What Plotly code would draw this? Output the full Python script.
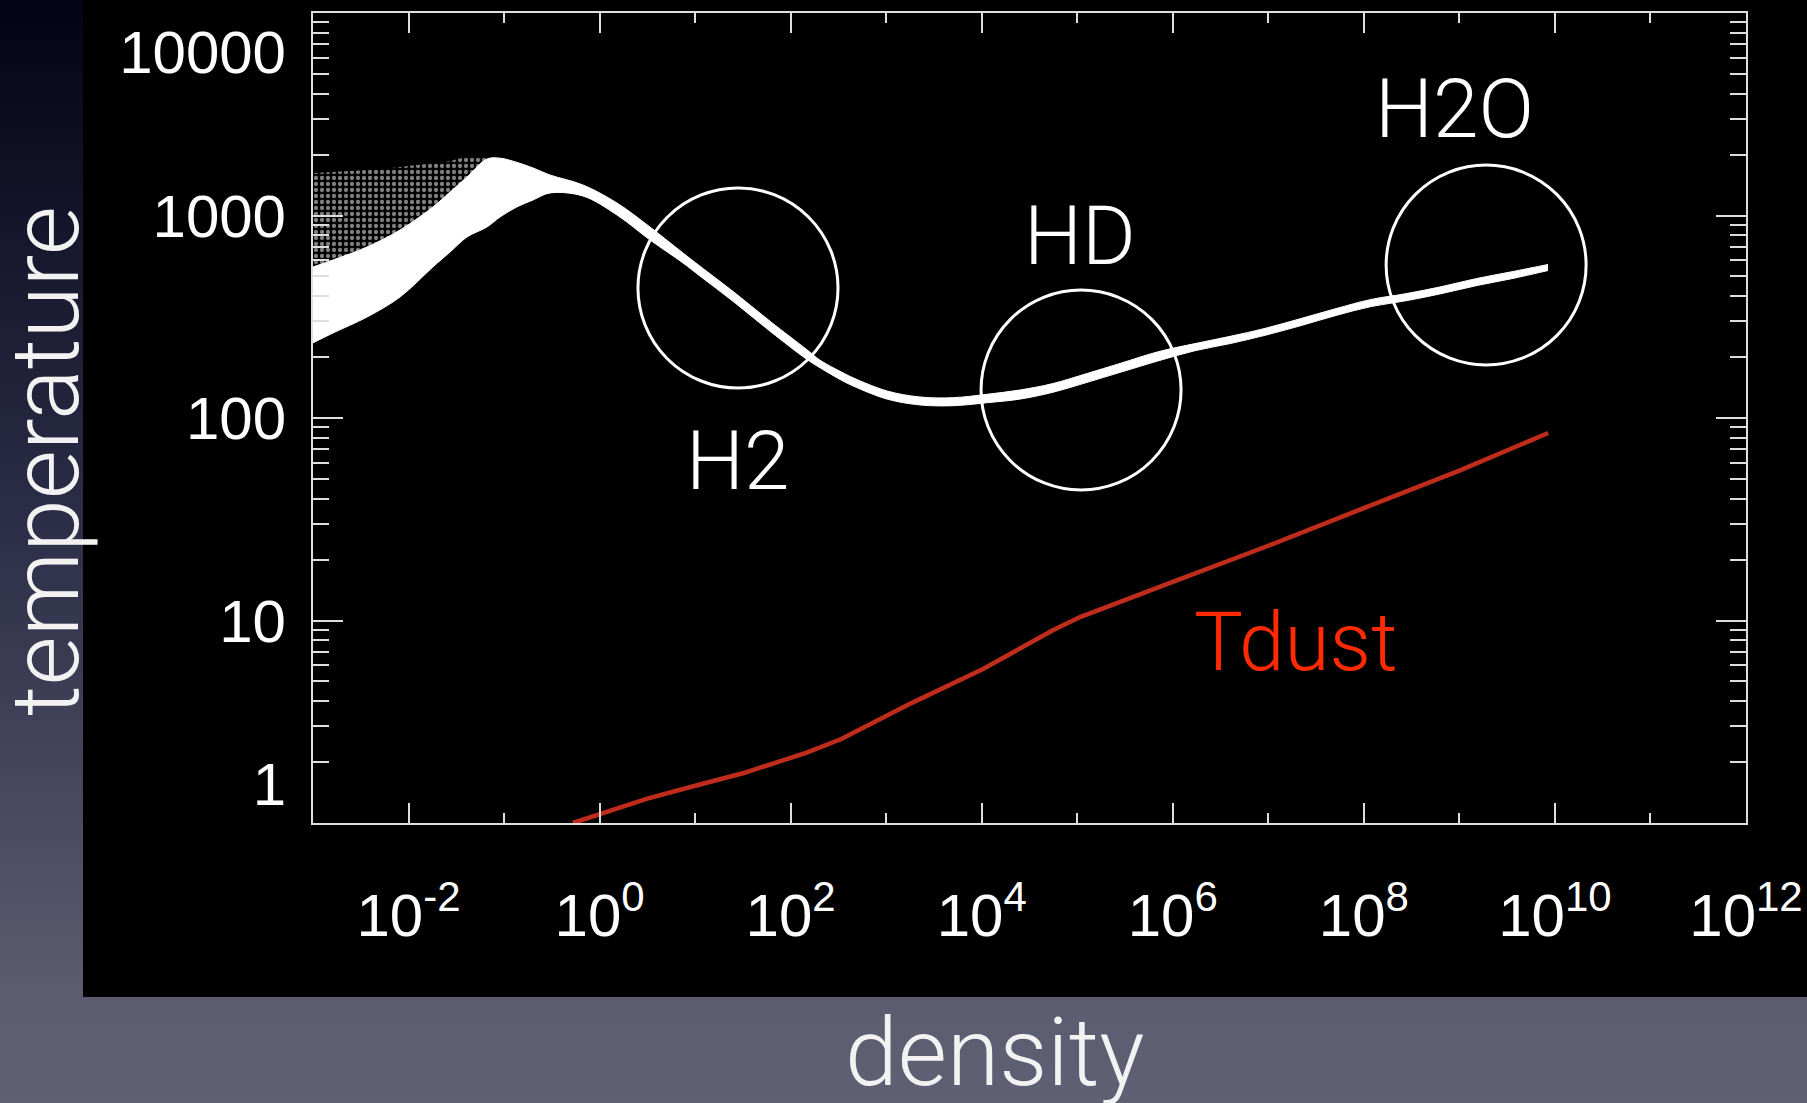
import base64
import math
import plotly.graph_objects as go

# ---------------- data ----------------
# gas temperature band (upper / lower envelope of the particle cloud)
band_density = [1.00e-3, 1.62e-3, 3.67e-3, 8.15e-3, 1.80e-2, 2.72e-2, 4.09e-2, 6.62e-2,
                9.07e-2, 0.136, 0.201, 0.303, 0.670, 1.52, 3.37, 7.46, 11.2, 26.2, 62.2,
                145, 203, 337, 450, 1.02e3, 2.26e3, 5.00e3, 1.14e4, 2.52e4, 5.57e4,
                1.27e5, 2.81e5, 7.18e5, 1.71e6, 3.97e6, 9.23e6, 2.20e7, 5.12e7, 1.19e8,
                2.83e8, 6.58e8, 1.53e9, 3.64e9, 8.47e9]
band_T_upper = [557, 603, 699, 848, 1102, 1306, 1549, 1900,
                1920, 1830, 1717, 1585, 1415, 1153, 877, 653, 563, 414, 298,
                219, 193, 169, 158, 136, 127, 126, 131, 137.5, 148,
                166, 186, 213, 233, 253, 277, 310, 347, 385,
                412, 446, 489, 529, 573]
band_T_lower = [235, 263, 315, 396, 557, 660, 783, 877,
                983, 1102, 1193, 1292, 1248, 1006, 757, 583, 503, 370, 266,
                196, 177, 154, 144, 124, 116, 115, 119, 124, 134,
                150, 168, 192, 215, 233, 256, 286, 321, 355,
                380, 412, 451, 489, 535]

# sparse scattered particles above the band at low density
sparse_density = [1.00e-3, 1.62e-3, 3.67e-3, 8.15e-3, 1.80e-2, 2.72e-2, 4.09e-2, 6.62e-2]
sparse_T_top = [1621, 1640, 1677, 1736, 1817, 1860, 1950, 1930]
sparse_T_bottom = [557, 603, 699, 848, 1102, 1306, 1549, 1900]

# dust temperature
dust_density = [0.525, 3.16, 11.2, 31.6, 145, 339, 1.86e3, 1.02e4, 5.62e4, 1.07e5,
                1.0e6, 1.0e7, 1.0e8, 1.0e9, 8.5e9]
dust_T = [1.0, 1.32, 1.55, 1.76, 2.22, 2.60, 3.92, 5.75, 8.97, 10.4,
          15.5, 23.4, 35.9, 55.0, 84.3]

# axis ticks
x_tick_values = [1e-2, 1e0, 1e2, 1e4, 1e6, 1e8, 1e10, 1e12]
x_tick_text = ["10<sup>-2</sup>", "10<sup>0</sup>", "10<sup>2</sup>", "10<sup>4</sup>",
               "10<sup>6</sup>", "10<sup>8</sup>", "10<sup>10</sup>", "10<sup>12</sup>"]
x_minor_values = [1e-1, 1e1, 1e3, 1e5, 1e7, 1e9, 1e11]
y_tick_values = [1, 10, 100, 1000, 10000]
y_tick_text = ["1<br>\u00a0", "10", "100", "1000", "\u00a0<br>10000"]
y_minor_values = [2, 3, 4, 5, 6, 7, 8, 9,
                  20, 30, 40, 50, 60, 70, 80, 90,
                  200, 300, 400, 500, 600, 700, 800, 900,
                  2000, 3000, 4000, 5000, 6000, 7000, 8000, 9000]

# circled regions (extent of each circle in data units) and labels
circle_names = ["H2", "HD", "H2O"]
circle_density_min = [2.52, 9.84e3, 1.71e8]
circle_density_max = [313, 1.22e6, 2.12e10]
circle_T_min = [140.6, 44.1, 182.8]
circle_T_max = [1368, 428.5, 1774]
label_text = ["H2", "HD", "H2O", "Tdust"]
label_density = [28.1, 1.07e5, 8.8e8, 1.95e7]
label_T = [61.4, 793, 3357, 7.83]
label_color = ["#ffffff", "#ffffff", "#ffffff", "#ff2a00"]

# ---------------- figure ----------------
W, H = 1807, 1103
ML, MR, MT, MB = 313, 61, 13, 280
PW, PH = W - ML - MR, H - MT - MB

fig = go.Figure()

fig.add_trace(go.Scatter(x=sparse_density, y=sparse_T_bottom, mode="lines", line_shape="spline",
                         line=dict(width=0, color="rgba(255,255,255,0)"), hoverinfo="skip"))
fig.add_trace(go.Scatter(x=sparse_density, y=sparse_T_top, mode="lines", line_shape="spline",
                         line=dict(width=0, color="rgba(255,255,255,0)"),
                         fill="tonexty", fillcolor="rgba(0,0,0,0)",
                         fillpattern=dict(shape=".", fgcolor="white", bgcolor="rgba(0,0,0,0)",
                                          size=6, solidity=0.4),
                         hoverinfo="skip"))
fig.add_trace(go.Scatter(x=band_density, y=band_T_lower, mode="lines", line_shape="spline",
                         line=dict(width=1, color="white", smoothing=1), hoverinfo="skip"))
fig.add_trace(go.Scatter(x=band_density, y=band_T_upper, mode="lines", line_shape="spline",
                         line=dict(width=1, color="white", smoothing=1),
                         fill="tonexty", fillcolor="white", name="T gas"))
fig.add_trace(go.Scatter(x=dust_density, y=dust_T, mode="lines",
                         line=dict(width=4.5, color="#c02c1c"), name="Tdust"))

# circles
for x0, x1, y0, y1 in zip(circle_density_min, circle_density_max, circle_T_min, circle_T_max):
    fig.add_shape(type="circle", xref="x", yref="y", x0=x0, x1=x1, y0=y0, y1=y1,
                  line=dict(color="white", width=3))

# labels
for txt, d, t, c in zip(label_text, label_density, label_T, label_color):
    fig.add_annotation(x=math.log10(d), y=math.log10(t), xref="x", yref="y", text=txt,
                       showarrow=False, xanchor="center", yanchor="middle",
                       font=dict(family="Roboto", size=82, color=c, weight=300))

# axis titles
fig.add_annotation(x=(46 - ML) / PW, y=1 - (461 - MT) / PH, xref="paper", yref="paper",
                   text="temperature", textangle=-90, showarrow=False,
                   xanchor="center", yanchor="middle",
                   font=dict(family="Roboto", size=95, color="#f2f2f2", weight=300))
fig.add_annotation(x=(994 - ML) / PW, y=1 - (1052 - MT) / PH, xref="paper", yref="paper",
                   text="density", showarrow=False, xanchor="center", yanchor="middle",
                   font=dict(family="Roboto", size=95, color="#f2f2f2", weight=300))

# background: slide gradient + black plot image
svg = f'''<svg xmlns="http://www.w3.org/2000/svg" width="{W}" height="{H}" viewBox="0 0 {W} {H}" preserveAspectRatio="none">
<defs><linearGradient id="g" x1="0" y1="0" x2="0" y2="1">
<stop offset="0" stop-color="#040315"/>
<stop offset="0.45" stop-color="#2a2b45"/>
<stop offset="0.9" stop-color="#5b5c6f"/>
<stop offset="1" stop-color="#5f6073"/>
</linearGradient></defs>
<rect width="{W}" height="{H}" fill="url(#g)"/>
<rect x="83" y="0" width="{W - 83}" height="997" fill="#000000"/>
</svg>'''
svg_uri = "data:image/svg+xml;base64," + base64.b64encode(svg.encode()).decode()
fig.add_layout_image(source=svg_uri, xref="paper", yref="paper",
                     x=-ML / PW, y=1 + MT / PH, sizex=W / PW, sizey=H / PH,
                     xanchor="left", yanchor="top", sizing="stretch", layer="below")

axis_color = "#dedede"
tick_font = dict(family="Liberation Sans", size=60, color="white")

fig.update_xaxes(type="log", range=[-3, 12], tickmode="array", tickvals=x_tick_values,
                 ticktext=x_tick_text, ticks="inside", ticklen=20, tickwidth=2,
                 tickcolor=axis_color, showline=True, linecolor=axis_color, linewidth=2,
                 mirror="ticks", showgrid=False, zeroline=False, tickfont=tick_font,
                 ticklabelstandoff=39, ticklabeloverflow="allow",
                 minor=dict(tickmode="array", tickvals=x_minor_values, ticks="inside",
                            ticklen=10, tickwidth=2, tickcolor=axis_color, showgrid=False))
fig.update_yaxes(type="log", range=[0, 4], tickmode="array", tickvals=y_tick_values,
                 ticktext=y_tick_text, ticks="inside", ticklen=30, tickwidth=2,
                 tickcolor=axis_color, showline=True, linecolor=axis_color, linewidth=2,
                 mirror="ticks", showgrid=False, zeroline=False, tickfont=tick_font,
                 ticklabelstandoff=13, ticklabeloverflow="allow",
                 minor=dict(tickmode="array", tickvals=y_minor_values, ticks="inside",
                            ticklen=16, tickwidth=2, tickcolor=axis_color, showgrid=False))

fig.update_layout(width=W, height=H, margin=dict(l=ML, r=MR, t=MT, b=MB, autoexpand=False),
                  paper_bgcolor="#2a2b45", plot_bgcolor="rgba(0,0,0,0)", showlegend=False)

fig.write_html("out.html")
